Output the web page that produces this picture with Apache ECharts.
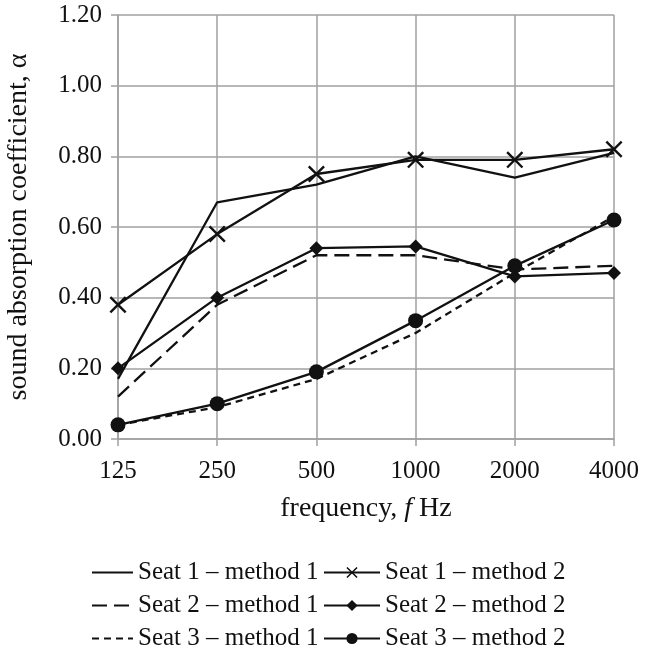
<!DOCTYPE html>
<html>
<head>
<meta charset="utf-8">
<script src="https://cdn.jsdelivr.net/npm/echarts@6/dist/echarts.min.js"></script>
<style>
html,body{margin:0;padding:0;background:#fff;}
#chart{width:653px;height:661px;}
</style>
</head>
<body>
<div id="chart"></div>
<script>
var categories = ['125', '250', '500', '1000', '2000', '4000'];
var yTicks = [0, 0.2, 0.4, 0.6, 0.8, 1.0, 1.2];

var seat1Method1 = [0.17, 0.67, 0.72, 0.80, 0.74, 0.81];
var seat1Method2 = [0.38, 0.58, 0.75, 0.79, 0.79, 0.82];
var seat2Method1 = [0.12, 0.38, 0.52, 0.52, 0.48, 0.49];
var seat2Method2 = [0.20, 0.40, 0.54, 0.545, 0.46, 0.47];
var seat3Method1 = [0.04, 0.09, 0.17, 0.30, 0.47, 0.63];
var seat3Method2 = [0.04, 0.10, 0.19, 0.335, 0.49, 0.62];

var seriesNames = [
  'Seat 1 \u2013 method 1', 'Seat 1 \u2013 method 2',
  'Seat 2 \u2013 method 1', 'Seat 2 \u2013 method 2',
  'Seat 3 \u2013 method 1', 'Seat 3 \u2013 method 2'
];

var FONT = '"Liberation Serif", "Times New Roman", serif';
var INK = '#111';
var GRID = '#a0a0a0';
var CROSS = 'path://M0,1L1,0L10,9L9,10Z M9,0L10,1L1,10L0,9Z';

function mkSeries(name, data, dash, symbol, size) {
  return {
    name: name,
    type: 'line',
    data: data,
    symbol: symbol || 'circle',
    symbolSize: size || 1,
    showSymbol: !!symbol,
    lineStyle: { color: INK, width: 2.3, type: dash || 'solid' },
    itemStyle: { color: symbol ? INK : 'rgba(0,0,0,0)' },
    emphasis: { disabled: true },
    z: symbol ? 3 : 2
  };
}

var series = [
  mkSeries(seriesNames[0], seat1Method1, 'solid'),
  mkSeries(seriesNames[1], seat1Method2, 'solid', CROSS, 17),
  mkSeries(seriesNames[2], seat2Method1, [15, 7]),
  mkSeries(seriesNames[3], seat2Method2, 'solid', 'diamond', 14),
  mkSeries(seriesNames[4], seat3Method1, [7, 5]),
  mkSeries(seriesNames[5], seat3Method2, 'solid', 'circle', 15)
];

var rowsTop = [560, 593, 626];
var legends = [];
for (var i = 0; i < 6; i++) {
  var col = i % 2, row = Math.floor(i / 2);
  legends.push({
    data: [seriesNames[i]],
    left: col === 0 ? 91 : 323,
    top: rowsTop[row],
    itemWidth: col === 0 ? 41 : 56,
    itemHeight: 14,
    itemGap: 0,
    padding: 0,
    selectedMode: false,
    textStyle: { fontFamily: FONT, fontSize: 25, color: INK }
  });
}

var chart = echarts.init(document.getElementById('chart'), null, { renderer: 'canvas' });
chart.setOption({
  animation: false,
  backgroundColor: '#fff',
  grid: { left: 118, right: 39, top: 15, bottom: 222, containLabel: false, outerBoundsMode: 'none' },
  legend: legends,
  xAxis: {
    type: 'category',
    data: categories,
    boundaryGap: false,
    axisLine: { lineStyle: { color: GRID, width: 1.5 } },
    axisTick: { show: true, length: 7, alignWithLabel: true, lineStyle: { color: GRID, width: 1.5 } },
    splitLine: { show: true, lineStyle: { color: GRID, width: 1.5 } },
    axisLabel: { fontFamily: FONT, fontSize: 25, color: INK, margin: 20 },
    name: 'frequency, {i|f} Hz',
    nameLocation: 'middle',
    nameGap: 56,
    nameTextStyle: {
      fontFamily: FONT, fontSize: 28, color: INK,
      rich: { i: { fontFamily: FONT, fontSize: 28, fontStyle: 'italic', color: INK } }
    }
  },
  yAxis: {
    type: 'value',
    min: yTicks[0],
    max: yTicks[yTicks.length - 1],
    interval: 0.2,
    axisLine: { show: true, lineStyle: { color: GRID, width: 1.5 } },
    axisTick: { show: true, length: 7, lineStyle: { color: GRID, width: 1.5 } },
    splitLine: { show: true, lineStyle: { color: GRID, width: 1.5 } },
    axisLabel: {
      fontFamily: FONT, fontSize: 25, color: INK, margin: 16,
      formatter: function (v) { return v.toFixed(2); }
    },
    name: 'sound absorption coefficient, \u03b1',
    nameLocation: 'middle',
    nameGap: 85,
    nameRotate: 90,
    nameTextStyle: { fontFamily: FONT, fontSize: 28, color: INK }
  },
  series: series
});
</script>
</body>
</html>
